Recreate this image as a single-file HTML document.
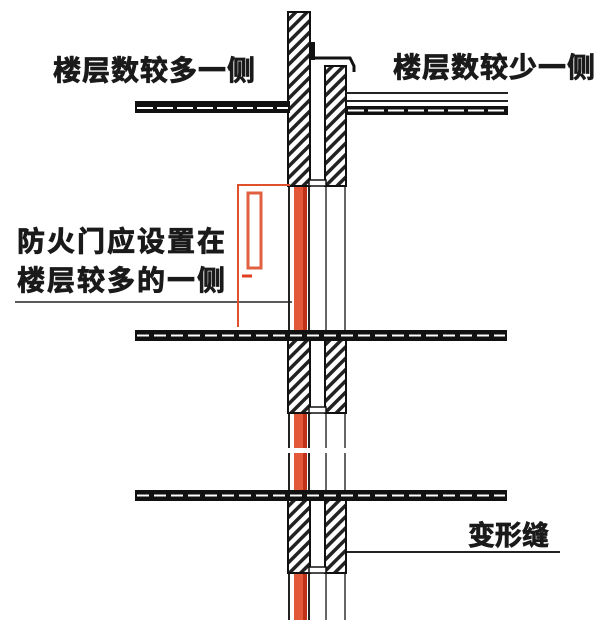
<!DOCTYPE html>
<html><head><meta charset="utf-8"><style>
html,body{margin:0;padding:0;background:#fff;}
svg{display:block;}
text{font-family:"Liberation Sans","Noto Sans CJK SC",sans-serif;font-weight:bold;fill:#1a1a1a;stroke:#1a1a1a;stroke-width:0.8;}
</style></head><body>
<svg width="600" height="620" viewBox="0 0 600 620" xmlns="http://www.w3.org/2000/svg">
<defs>
<pattern id="h" width="8" height="8" patternUnits="userSpaceOnUse" patternTransform="rotate(45)">
<rect width="8" height="8" fill="#fff"/>
<rect x="0" y="0" width="3.5" height="8" fill="#222"/>
</pattern>
</defs>
<!-- labels -->
<text x="53" y="80" font-size="28" letter-spacing="1">楼层数较多一侧</text>
<text x="393" y="77" font-size="28" letter-spacing="1">楼层数较少一侧</text>
<text x="17" y="251" font-size="28" letter-spacing="2">防火门应设置在</text>
<text x="17" y="290" font-size="28" letter-spacing="2">楼层较多的一侧</text>
<text x="468" y="545" font-size="27">变形缝</text>
<line x1="15" y1="302" x2="292" y2="302" stroke="#222" stroke-width="1.5"/>
<line x1="345" y1="552" x2="560" y2="552" stroke="#222" stroke-width="2"/>

<!-- vertical continuous lines -->
<line x1="289" y1="185" x2="289" y2="620" stroke="#222" stroke-width="2"/>
<rect x="294" y="185" width="12" height="435" fill="#e4583a"/>
<rect x="303" y="185" width="4" height="435" fill="#c0321a"/>
<line x1="309" y1="185" x2="309" y2="620" stroke="#222" stroke-width="2"/>
<line x1="326" y1="185" x2="326" y2="620" stroke="#333" stroke-width="1.5"/>
<line x1="345" y1="185" x2="345" y2="620" stroke="#333" stroke-width="1.5"/>
<rect x="285" y="448" width="65" height="5" fill="#fff"/>

<!-- top walls -->
<rect x="288" y="12" width="22" height="174" fill="url(#h)" stroke="#111" stroke-width="2"/>
<rect x="310" y="42" width="5" height="18" fill="#111"/>
<path d="M310 58 H350 L354 66 V72" fill="none" stroke="#111" stroke-width="3"/>
<rect x="325" y="66" width="21" height="120" fill="url(#h)" stroke="#111" stroke-width="2"/>
<line x1="310" y1="66" x2="310" y2="186" stroke="#111" stroke-width="2"/>
<rect x="309" y="180" width="17" height="6" fill="#fff" stroke="#111" stroke-width="1.5"/>

<!-- middle walls -->
<rect x="288" y="337" width="22" height="76" fill="url(#h)" stroke="#111" stroke-width="2"/>
<rect x="325" y="337" width="21" height="76" fill="url(#h)" stroke="#111" stroke-width="2"/>
<rect x="309" y="407" width="17" height="6" fill="#fff" stroke="#111" stroke-width="1.5"/>
<!-- bottom walls -->
<rect x="288" y="498" width="22" height="75" fill="url(#h)" stroke="#111" stroke-width="2"/>
<rect x="325" y="498" width="21" height="75" fill="url(#h)" stroke="#111" stroke-width="2"/>
<rect x="309" y="567" width="17" height="6" fill="#fff" stroke="#111" stroke-width="1.5"/>

<!-- slabs -->
<g>
<rect x="135" y="101" width="155" height="12" fill="#111"/>
<line x1="137" y1="108" x2="288" y2="108" stroke="#fff" stroke-width="2" stroke-dasharray="16,4"/>
<line x1="346" y1="93" x2="508" y2="93" stroke="#222" stroke-width="2"/>
<line x1="346" y1="101" x2="508" y2="101" stroke="#222" stroke-width="2"/>
<rect x="346" y="106" width="162" height="9" fill="#111"/>
<line x1="348" y1="110.5" x2="506" y2="110.5" stroke="#fff" stroke-width="2" stroke-dasharray="16,4"/>

<rect x="135" y="330" width="372" height="11" fill="#111"/>
<line x1="137" y1="335.5" x2="505" y2="335.5" stroke="#fff" stroke-width="2" stroke-dasharray="12,5"/>

<rect x="135" y="490" width="372" height="11" fill="#111"/>
<line x1="137" y1="495.5" x2="505" y2="495.5" stroke="#fff" stroke-width="2" stroke-dasharray="12,5"/>
</g>

<!-- fire door -->
<path d="M238 327 V185 H290" fill="none" stroke="#e0502c" stroke-width="2"/>
<rect x="248" y="193" width="13" height="75" fill="#fff" stroke="#e06040" stroke-width="3"/>
<line x1="242" y1="276" x2="252" y2="276" stroke="#e04020" stroke-width="3"/>
</svg>
</body></html>
